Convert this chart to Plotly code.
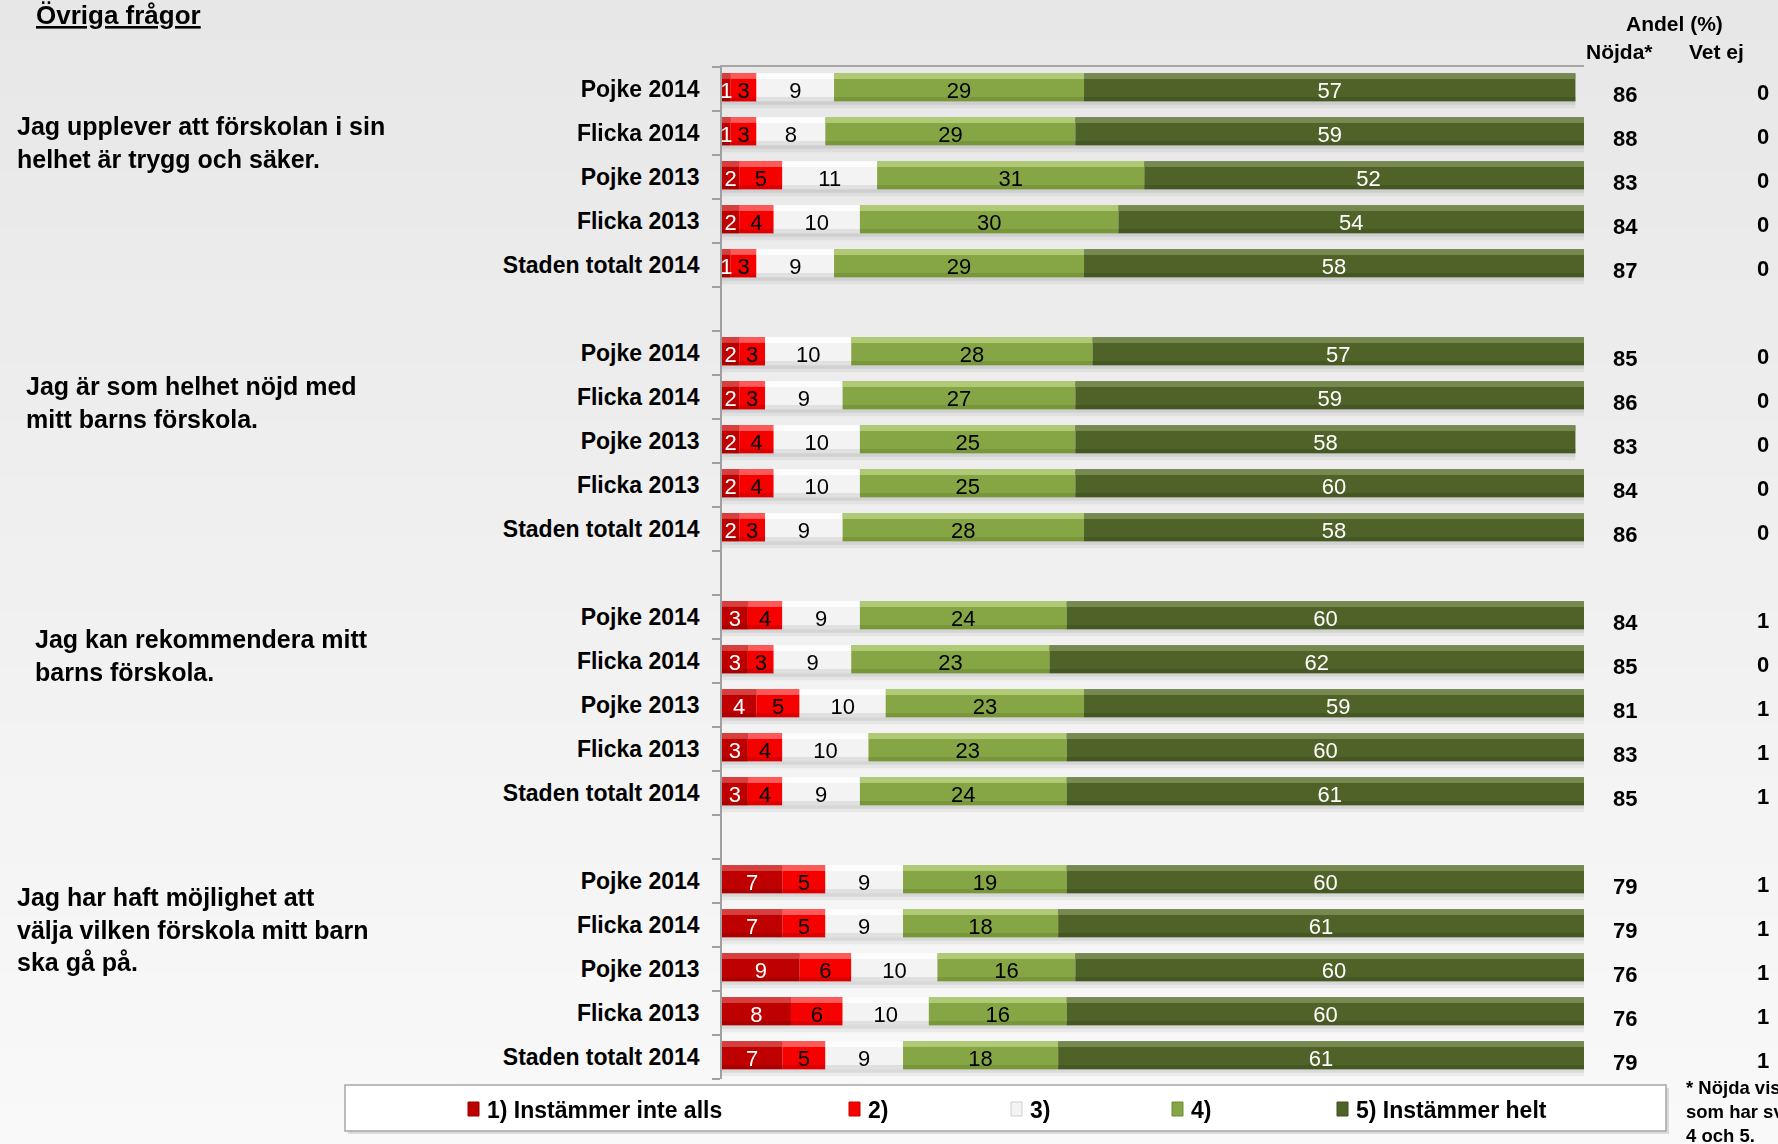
import plotly.graph_objects as go

# ---------------------------------------------------------------- data
questions = [
    "Jag upplever att förskolan i sin<br>helhet är trygg och säker.",
    "Jag är som helhet nöjd med<br>mitt barns förskola.",
    "Jag kan rekommendera mitt<br>barns förskola.",
    "Jag har haft möjlighet att<br>välja vilken förskola mitt barn<br>ska gå på.",
]
groups = ["Pojke 2014", "Flicka 2014", "Pojke 2013", "Flicka 2013", "Staden totalt 2014"]
categories = ["1) Instämmer inte alls", "2)", "3)", "4)", "5) Instämmer helt"]

# answer shares (%) per row, four questions x five groups
s1 = [1, 1, 2, 2, 1,   2, 2, 2, 2, 2,   3, 3, 4, 3, 3,   7, 7, 9, 8, 7]
s2 = [3, 3, 5, 4, 3,   3, 3, 4, 4, 3,   4, 3, 5, 4, 4,   5, 5, 6, 6, 5]
s3 = [9, 8, 11, 10, 9, 10, 9, 10, 10, 9, 9, 9, 10, 10, 9, 9, 9, 10, 10, 9]
s4 = [29, 29, 31, 30, 29, 28, 27, 25, 25, 28, 24, 23, 23, 23, 24, 19, 18, 16, 16, 18]
s5 = [57, 59, 52, 54, 58, 57, 59, 58, 60, 58, 60, 62, 59, 60, 61, 60, 61, 60, 60, 61]
nojda = [86, 88, 83, 84, 87, 85, 86, 83, 84, 86, 84, 85, 81, 83, 85, 79, 79, 76, 76, 79]
vet_ej = [0, 0, 0, 0, 0, 0, 0, 0, 0, 0, 1, 0, 1, 1, 1, 1, 1, 1, 1, 1]

# ---------------------------------------------------------------- styling
W, H = 1778, 1144
L, R, T, B = 722, 1584, 67, 1079          # plot area in pixels
FONT = "Liberation Sans, Arial, sans-serif"

seg_colors = ["#BE0000", "#F60000", "#F3F3F3", "#86A544", "#4F6228"]
seg_light = ["#DC4A4A", "#FF6A6A", "#FFFFFF", "#B9D07F", "#7E9159"]
seg_dark = ["#9A0000", "#C80000", "#CFCFCF", "#6E8A34", "#3F4F1F"]
seg_text = ["white", "black", "black", "black", "white"]


def px_x(px):
    return (px - L) / (R - L)


def px_y(py):
    return (B - py) / (B - T)


series = [s1, s2, s3, s4, s5]
n_rows = len(s1)
slots = [(i // 5) * 6 + (i % 5) for i in range(n_rows)]
row_labels = [groups[i % 5] for i in range(n_rows)]

fig = go.Figure()

# soft drop shadow under each full bar
totals = [sum(s[i] for s in series) for i in range(n_rows)]
for off, wd, a in [(-0.18, 0.62, 0.05), (-0.2, 0.56, 0.07)]:
    fig.add_trace(go.Bar(
        x=totals, y=slots, base=[0] * n_rows, orientation="h",
        width=wd, offset=off, marker=dict(color=f"rgba(0,0,0,{a})", line_width=0),
        hoverinfo="skip", showlegend=False,
    ))

bases = [0] * n_rows
seg_bases = []
for k, s in enumerate(series):
    seg_bases.append(list(bases))
    # body
    fig.add_trace(go.Bar(
        x=s, y=slots, base=list(bases), orientation="h", name=categories[k],
        width=0.64, offset=-0.36,
        marker=dict(color=seg_colors[k], line_width=0),
        showlegend=False,
    ))
    # lower shade
    fig.add_trace(go.Bar(
        x=s, y=slots, base=list(bases), orientation="h",
        width=0.1, offset=0.18,
        marker=dict(color=seg_dark[k], line_width=0), opacity=0.55,
        hoverinfo="skip", showlegend=False,
    ))
    # top highlight
    fig.add_trace(go.Bar(
        x=s, y=slots, base=list(bases), orientation="h",
        width=0.13, offset=-0.36,
        marker=dict(color=seg_light[k], line_width=0), opacity=0.85,
        hoverinfo="skip", showlegend=False,
    ))
    bases = [b + v for b, v in zip(bases, s)]

# value labels inside the segments
for k, s in enumerate(series):
    fig.add_trace(go.Scatter(
        x=[b + v / 2 for b, v in zip(seg_bases[k], s)],
        y=[y + 0.08 for y in slots],
        mode="text", text=[str(v) for v in s],
        textfont=dict(family=FONT, size=22, color=seg_text[k]),
        cliponaxis=False, hoverinfo="skip", showlegend=False,
    ))

annotations = []

# side columns: share satisfied and "vet ej"
for y, nv, vv in zip(slots, nojda, vet_ej):
    annotations.append(dict(
        xref="paper", yref="y", x=px_x(1625), y=y + 0.12, xanchor="center", yanchor="middle",
        showarrow=False, text=str(nv),
        font=dict(family=FONT, size=22, color="black", weight="bold"),
    ))
    annotations.append(dict(
        xref="paper", yref="y", x=px_x(1771), y=y + 0.07, xanchor="right", yanchor="middle",
        showarrow=False, text=str(vv),
        font=dict(family=FONT, size=22, color="black", weight="bold"),
    ))

# ---------------------------------------------------------------- background
shapes = []
nb = 60
for j in range(nb):
    t = j / (nb - 1)
    g = round(231 + (249 - 231) * t)
    shapes.append(dict(
        type="rect", xref="paper", yref="paper", layer="below",
        x0=px_x(0), x1=px_x(W), y0=px_y(H * (j + 1) / nb + 1), y1=px_y(H * j / nb),
        fillcolor=f"rgb({g},{g},{g})", line_width=0,
    ))

# legend frame
shapes.append(dict(type="rect", xref="paper", yref="paper", layer="above",
                   x0=px_x(348), x1=px_x(1669), y0=px_y(1134), y1=px_y(1088),
                   fillcolor="rgba(0,0,0,0.12)", line_width=0))
shapes.append(dict(type="rect", xref="paper", yref="paper", layer="above",
                   x0=px_x(345), x1=px_x(1666), y0=px_y(1131), y1=px_y(1085),
                   fillcolor="white", line=dict(color="#A6A6A6", width=1.5)))

leg_marker_x = [468, 849, 1011, 1172, 1337]
leg_text_x = [485, 866, 1028, 1189, 1354]
for k in range(5):
    shapes.append(dict(type="rect", xref="paper", yref="paper", layer="above",
                       x0=px_x(leg_marker_x[k]), x1=px_x(leg_marker_x[k] + 11),
                       y0=px_y(1116), y1=px_y(1102),
                       fillcolor=seg_colors[k], line=dict(color=seg_dark[k], width=1)))
    annotations.append(dict(
        xref="paper", yref="paper", x=px_x(leg_text_x[k]), y=px_y(1110),
        xanchor="left", yanchor="middle", showarrow=False, text=categories[k],
        font=dict(family=FONT, size=23, color="black", weight="bold"),
    ))

# ---------------------------------------------------------------- texts
annotations.append(dict(
    xref="paper", yref="paper", x=px_x(34), y=px_y(15), xanchor="left", yanchor="middle",
    showarrow=False, text="<u>Övriga frågor</u>",
    font=dict(family=FONT, size=26, color="black", weight="bold"),
))
q_pos = [(15, 142), (24, 403), (33, 655), (15, 929)]
for q, (qx, qy) in zip(questions, q_pos):
    annotations.append(dict(
        xref="paper", yref="paper", x=px_x(qx), y=px_y(qy), xanchor="left", yanchor="middle",
        align="left", showarrow=False, text=q,
        font=dict(family=FONT, size=25, color="black", weight="bold"),
    ))
for txt, cx, cy in [("Andel (%)", 1674, 24), ("Nöjda*", 1619, 51), ("Vet ej", 1716, 51)]:
    annotations.append(dict(
        xref="paper", yref="paper", x=px_x(cx), y=px_y(cy), xanchor="center", yanchor="middle",
        showarrow=False, text=txt,
        font=dict(family=FONT, size=21, color="black", weight="bold"),
    ))
annotations.append(dict(
    xref="paper", yref="paper", x=px_x(1684), y=px_y(1111), xanchor="left", yanchor="middle",
    align="left", showarrow=False,
    text="* Nöjda visar andelen<br>som har svarat<br>4 och 5.",
    font=dict(family=FONT, size=18.5, color="black", weight="bold"),
))

fig.update_layout(
    width=W, height=H,
    margin=dict(l=L, r=W - R, t=T, b=H - B, pad=0),
    barmode="overlay",
    paper_bgcolor="#F0F0F0", plot_bgcolor="rgba(0,0,0,0)",
    showlegend=False,
    shapes=shapes, annotations=annotations,
    xaxis=dict(range=[0, 100], side="top", showline=True, linecolor="#A6A6A6", linewidth=2,
               showticklabels=False, ticks="", showgrid=False, zeroline=False, fixedrange=True),
    yaxis=dict(range=[22.5, -0.5], tickmode="array", tickvals=slots, ticktext=row_labels,
               showline=True, linecolor="#A0A0A0", linewidth=1.5, ticks="",
               ticklabelstandoff=16,
               tickfont=dict(family=FONT, size=23, color="black", weight="bold"),
               minor=dict(tickmode="array", tickvals=[v - 0.5 for v in range(24)],
                          ticks="outside", ticklen=8, tickcolor="#A0A0A0", tickwidth=1.5,
                          showgrid=False),
               showgrid=False, zeroline=False, fixedrange=True),
)

fig.write_html("out.html")
